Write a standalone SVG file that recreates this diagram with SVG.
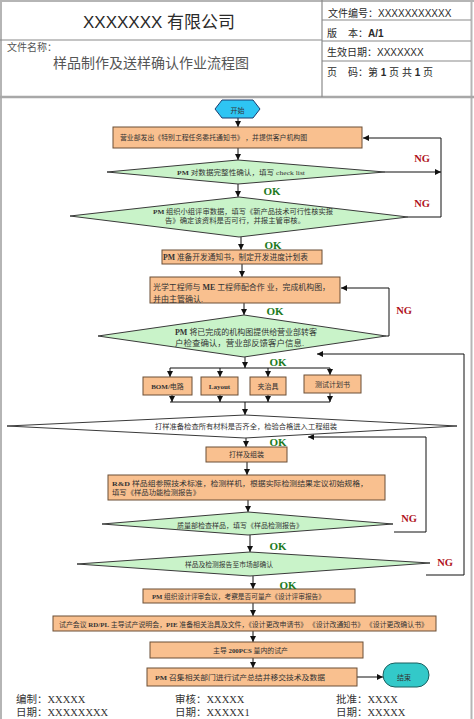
<svg xmlns="http://www.w3.org/2000/svg" width="474" height="719" viewBox="0 0 474 719">
<defs>
<marker id="ah" viewBox="0 0 6 6" refX="6" refY="3" markerWidth="6" markerHeight="6" markerUnits="userSpaceOnUse" orient="auto"><path d="M0,0 L6,3 L0,6 z" fill="#111"/></marker>
<style>
.frame{fill:none;stroke:#b5b5b5;stroke-width:2}
.grid{fill:none;stroke:#8a8a8a;stroke-width:1.2}
.hs{font-family:"Liberation Sans","Noto Sans CJK SC",sans-serif;fill:#2a2a2a}
.hc{font-family:"Noto Sans CJK SC","Liberation Sans",sans-serif;fill:#555}
.box{fill:#f9c08f;stroke:#6b4f36;stroke-width:1}
.dia{fill:#c9f3c9;stroke:#3a3a3a;stroke-width:1}
.diaw{fill:#ffffff;stroke:#3a3a3a;stroke-width:1}
.t{font-family:"Liberation Serif","Noto Sans CJK SC",serif;fill:#333;font-size:7px}
.t8{font-size:8px}
.b{font-weight:bold}
.ok{font-family:"Liberation Serif",serif;font-weight:bold;fill:#1d7a22;font-size:11px;text-anchor:middle}
.ng{font-family:"Liberation Serif",serif;font-weight:bold;fill:#b0141c;font-size:10.5px;text-anchor:middle}
.c{fill:none;stroke:#111;stroke-width:1}
.ca{fill:none;stroke:#111;stroke-width:1;marker-end:url(#ah)}
.ft{font-family:"Liberation Serif","Noto Sans CJK SC",serif;fill:#333;font-size:10.5px}
</style>
</defs>
<rect width="474" height="719" fill="#ffffff"/>
<g id="header">
<line class="frame" x1="1" y1="0" x2="1" y2="719"/>
<line class="frame" x1="471.5" y1="0" x2="471.5" y2="719"/>
<line class="frame" x1="0" y1="1" x2="474" y2="1"/>
<line x1="0" y1="97" x2="474" y2="97" stroke="#a8a8a8" stroke-width="2.5"/>
<line class="grid" x1="322" y1="0" x2="322" y2="97"/>
<line class="grid" x1="0" y1="40" x2="322" y2="40"/>
<line class="grid" x1="322" y1="20" x2="471" y2="20"/>
<line class="grid" x1="322" y1="41" x2="471" y2="41"/>
<line class="grid" x1="322" y1="61" x2="471" y2="61"/>
<text class="hs" x="83" y="28" font-size="17">XXXXXXX 有限公司</text>
<text class="hc" x="7" y="51" font-size="10">文件名称：</text>
<text class="hc" x="53" y="68" font-size="14" fill="#4a4a4a">样品制作及送样确认作业流程图</text>
<text class="hs" x="328" y="16.5" font-size="10">文件编号：XXXXXXXXXXX</text>
<text class="hs" x="327" y="36.5" font-size="10">版<tspan x="348">本：</tspan><tspan class="b">A/1</tspan></text>
<text class="hs" x="327" y="55.5" font-size="10">生效日期：XXXXXXX</text>
<text class="hs" x="327" y="75.5" font-size="10">页<tspan x="348">码：第 </tspan><tspan class="b">1</tspan> 页 共 <tspan class="b">1</tspan> 页</text>
</g>
<g id="connectors">
<line class="ca" x1="238" y1="118" x2="238" y2="127"/>
<line class="ca" x1="238" y1="148" x2="238" y2="160"/>
<line class="ca" x1="238" y1="184" x2="238" y2="197"/>
<line class="ca" x1="241" y1="237" x2="241" y2="250"/>
<line class="ca" x1="242" y1="264" x2="242" y2="277"/>
<line class="ca" x1="244" y1="303" x2="244" y2="315"/>
<line class="ca" x1="245" y1="357" x2="245" y2="368"/>
<line class="c" x1="170" y1="368" x2="330" y2="368"/>
<line class="ca" x1="170" y1="368" x2="170" y2="377"/>
<line class="ca" x1="220" y1="368" x2="220" y2="377"/>
<line class="ca" x1="268" y1="368" x2="268" y2="377"/>
<line class="ca" x1="330" y1="368" x2="330" y2="375"/>
<line class="ca" x1="172" y1="395" x2="172" y2="402"/>
<line class="ca" x1="220" y1="395" x2="220" y2="402"/>
<line class="ca" x1="268" y1="395" x2="268" y2="402"/>
<line class="ca" x1="330" y1="393" x2="330" y2="402"/>
<line class="c" x1="170" y1="402" x2="330" y2="402"/>
<line class="ca" x1="245" y1="402" x2="245" y2="415"/>
<line class="ca" x1="246" y1="438" x2="246" y2="447"/>
<line class="ca" x1="247" y1="462" x2="247" y2="475"/>
<line class="ca" x1="248" y1="500" x2="248" y2="512"/>
<line class="ca" x1="250" y1="535" x2="250" y2="552"/>
<line class="ca" x1="253" y1="576" x2="253" y2="589"/>
<line class="ca" x1="253" y1="603" x2="253" y2="616"/>
<line class="ca" x1="253" y1="631" x2="253" y2="642"/>
<line class="ca" x1="253" y1="658" x2="253" y2="668"/>
<line class="ca" x1="357" y1="677" x2="383" y2="677"/>
<line class="ca" x1="385" y1="172" x2="441" y2="172"/>
<polyline class="ca" points="408,217 441,217 441,138 363,138"/>
<polyline class="ca" points="386,336 389,336 389,288 341,288"/>
<polyline class="ca" points="394,532 426,532 426,437 308,437"/>
<polyline class="ca" points="426,575 464,575 464,354 317,354"/>
</g>
<g id="start">
<polygon points="215,109 222,100 253,100 260,109 253,118 222,118" fill="#2ec5f3" stroke="#1d3c6e" stroke-width="1"/>
<text class="t" x="237.5" y="112.5" font-size="9.5" text-anchor="middle" fill="#1a1a40">开始</text>
</g>
<g id="n1">
<rect class="box" x="113" y="127" width="249" height="21"/>
<text class="t" x="120" y="140" textLength="187" lengthAdjust="spacingAndGlyphs">营业部发出《特别工程任务委托通知书》 ，并提供客户机构图</text>
</g>
<g id="d1">
<polygon class="dia" points="107,172 238,160 385,172 238,184"/>
<text class="t" x="177" y="174.5" textLength="128" lengthAdjust="spacingAndGlyphs"><tspan class="b">PM</tspan> 对数据完整性确认，填写 check list</text>
</g>
<g id="d2">
<polygon class="dia" points="70,216 239,197 408,217 239,237"/>
<text class="t" x="153" y="214" textLength="180" lengthAdjust="spacingAndGlyphs"><tspan class="b">PM</tspan> 组织小组评审数据，填写《新产品技术可行性核实报</text>
<text class="t" x="165" y="223" textLength="140" lengthAdjust="spacingAndGlyphs">告》确定该资料是否可行，并报主管审核。</text>
</g>
<g id="n2">
<rect class="box" x="162" y="250" width="160" height="14"/>
<text class="t t8" x="163" y="259.5" textLength="145" lengthAdjust="spacingAndGlyphs"><tspan class="b">PM</tspan> 准备开发通知书，制定开发进度计划表</text>
</g>
<g id="n3">
<rect class="box" x="150" y="277" width="190" height="26"/>
<text class="t t8" x="153" y="290" textLength="177" lengthAdjust="spacingAndGlyphs">光学工程师与 <tspan class="b">ME</tspan> 工程师配合作 业，完成机构图，</text>
<text class="t t8" x="153" y="301.5">并由主管确认.</text>
</g>
<g id="d3">
<polygon class="dia" points="98,336 244,315 386,336 244,357"/>
<text class="t t8" x="175" y="334.5" textLength="142" lengthAdjust="spacingAndGlyphs"><tspan class="b">PM</tspan> 将已完成的机构图提供给营业部转客</text>
<text class="t t8" x="175" y="346" textLength="129" lengthAdjust="spacingAndGlyphs">户检查确认，营业部反馈客户信息.</text>
</g>
<g id="n4a">
<rect class="box" x="143" y="377" width="49" height="18"/>
<text class="t" x="167.5" y="388.5" font-size="6.5" text-anchor="middle"><tspan class="b">BOM/</tspan>电路</text>
</g>
<g id="n4b">
<rect class="box" x="201" y="377" width="37" height="18"/>
<text class="t b" x="219.5" y="388.5" font-size="6.5" text-anchor="middle">Layout</text>
</g>
<g id="n4c">
<rect class="box" x="250" y="377" width="36" height="18"/>
<text class="t" x="268" y="388.5" font-size="6.5" text-anchor="middle">夹治具</text>
</g>
<g id="n4d">
<rect class="box" x="304" y="375" width="57" height="18" stroke="#3a2a1a" stroke-width="1.5"/>
<text class="t" x="332.5" y="386.5" font-size="6.5" text-anchor="middle">测试计划书</text>
</g>
<g id="d4">
<polygon class="diaw" points="7,426 245,415 457,426 245,438"/>
<text class="t" x="155" y="429" textLength="182" lengthAdjust="spacingAndGlyphs">打样准备检查所有材料是否齐全，检验合格进入工程组装</text>
</g>
<g id="n5">
<rect class="box" x="206" y="447" width="81" height="15"/>
<text class="t" x="246.5" y="457" font-size="6.5" text-anchor="middle">打样及组装</text>
</g>
<g id="n6">
<rect class="box" x="108" y="475" width="277" height="25"/>
<text class="t" x="112" y="485.5" textLength="256" lengthAdjust="spacingAndGlyphs"><tspan class="b">R&amp;D</tspan> 样品组参照技术标准，检测样机，根据实际检测结果定议初始规格，</text>
<text class="t" x="112" y="494.5" textLength="88" lengthAdjust="spacingAndGlyphs">填写《样品功能检测报告》</text>
</g>
<g id="d5">
<polygon class="dia" points="102,524 248,512 393,524 248,535"/>
<text class="t" x="177" y="527.5" textLength="126" lengthAdjust="spacingAndGlyphs">质量部检查样品，填写《样品检测报告》</text>
</g>
<g id="d6">
<polygon class="dia" points="77,564 250,552 430,563 250,576"/>
<text class="t" x="185" y="567" textLength="88" lengthAdjust="spacingAndGlyphs">样品及检测报告至市场部确认</text>
</g>
<g id="n7">
<rect class="box" x="143" y="589" width="212" height="14"/>
<text class="t" x="152" y="599" textLength="173" lengthAdjust="spacingAndGlyphs"><tspan class="b">PM</tspan> 组织设计评审会议，考察是否可量产《设计评审报告》</text>
</g>
<g id="n8">
<rect class="box" x="53" y="616" width="383" height="15"/>
<text class="t" x="59" y="626.5" textLength="369" lengthAdjust="spacingAndGlyphs">试产会议 <tspan class="b">RD/PL</tspan> 主导试产说明会，<tspan class="b">PIE</tspan> 准备相关治具及文件，《设计更改申请书》 《设计改通知书》 《设计更改确认书》</text>
</g>
<g id="n9">
<rect class="box" x="150" y="642" width="213" height="16"/>
<text class="t" x="213" y="652.5" textLength="75" lengthAdjust="spacingAndGlyphs">主导 <tspan class="b">200PCS</tspan> 量内的试产</text>
</g>
<g id="n10">
<rect class="box" x="147" y="668" width="210" height="18"/>
<text class="t" x="155" y="680" textLength="170" lengthAdjust="spacingAndGlyphs"><tspan class="b">PM</tspan> 召集相关部门进行试产总结并移交技术及数据</text>
</g>
<g id="end">
<rect x="383" y="663" width="46" height="24" rx="12" ry="12" fill="#33c9c9" stroke="#1c5f5f" stroke-width="1"/>
<text class="t" x="404" y="680" font-size="11" text-anchor="middle" fill="#1a1a2a">结束</text>
</g>
<g id="labels">
<text class="ok" x="272" y="194.5">OK</text>
<text class="ok" x="273" y="248.5">OK</text>
<text class="ok" x="275" y="314.5">OK</text>
<text class="ok" x="278" y="365.5">OK</text>
<text class="ok" x="278" y="445.5">OK</text>
<text class="ok" x="278" y="549.5">OK</text>
<text class="ok" x="288" y="588.5">OK</text>
<text class="ng" x="422" y="161.5">NG</text>
<text class="ng" x="422" y="206.5">NG</text>
<text class="ng" x="404" y="313.5">NG</text>
<text class="ng" x="409" y="521.5">NG</text>
<text class="ng" x="445" y="565.5">NG</text>
</g>
<g id="footer">
<text class="ft" x="16" y="703">编制：XXXXX</text>
<text class="ft" x="16" y="716">日期：XXXXXXXX</text>
<text class="ft" x="175" y="703">审核：XXXXX</text>
<text class="ft" x="175" y="716">日期：XXXXX1</text>
<text class="ft" x="336" y="703">批准：XXXX</text>
<text class="ft" x="336" y="716">日期：XXXXX</text>
</g>
</svg>
